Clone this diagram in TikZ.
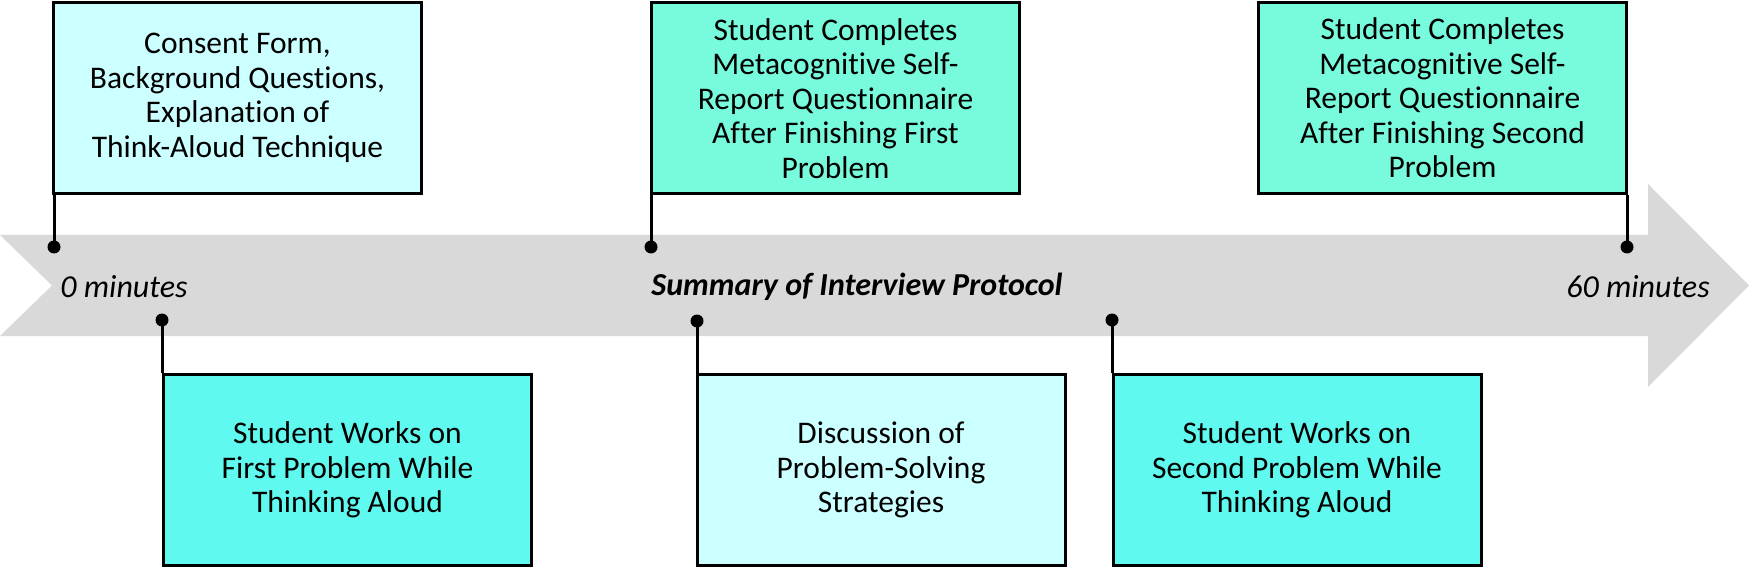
\documentclass[tikz,border=0pt]{standalone}
\usepackage{fontspec}
\setmainfont{Carlito}[Ligatures=NoCommon]
\definecolor{lightbox}{HTML}{CCFFFF}
\definecolor{aquabox}{HTML}{5FF9EF}
\definecolor{greenbox}{HTML}{78FBDC}
\definecolor{bandgray}{HTML}{D9D9D9}
\begin{document}
\begin{tikzpicture}[x=1pt,y=-1pt,
  box/.style={draw=black,line width=3pt,minimum width=368pt,minimum height=191pt,
    inner sep=0pt,align=center,font=\fontsize{31.5}{34.5}\selectfont},
  dot/.style={circle,fill=black,inner sep=0pt,minimum size=13pt},
  pole/.style={line width=3pt},
  bandtext/.style={font=\fontsize{32}{36}\selectfont\itshape}]
\useasboundingbox (0,0) rectangle (1750,569);
% timeline band
\fill[bandgray] (0,235) -- (1648,235) -- (1648,184) -- (1749,285.5) -- (1648,387)
  -- (1648,336) -- (0,336) -- (52,285.5) -- cycle;
\node[bandtext] (t0) at (124,287) {0 minutes};
\node[bandtext,font=\fontsize{32}{36}\selectfont\bfseries\itshape] (tsum) at (857,287) {Summary of Interview Protocol};
\node[bandtext] (t60) at (1638,287) {60 minutes};
% boxes
\node[box,fill=lightbox] (b1) at (237.5,98) {Consent Form,\\Background Questions,\\Explanation of\\Think-Aloud Technique};
\node[box,fill=aquabox] (b2) at (347.5,470) {Student Works on\\First Problem While\\Thinking Aloud};
\node[box,fill=greenbox] (b3) at (835.5,98.5) {Student Completes\\Metacognitive Self-\\Report Questionnaire\\After Finishing First\\Problem};
\node[box,fill=lightbox] (b4) at (881,470) {Discussion of\\Problem-Solving\\Strategies};
\node[box,fill=aquabox] (b5) at (1297,470) {Student Works on\\Second Problem While\\Thinking Aloud};
\node[box,fill=greenbox] (b6) at (1442.5,98) {Student Completes\\Metacognitive Self-\\Report Questionnaire\\After Finishing Second\\Problem};
% dots
\node[dot] (d1) at (54,247) {};
\node[dot] (d2) at (162,320) {};
\node[dot] (d3) at (651,247) {};
\node[dot] (d4) at (697,321) {};
\node[dot] (d5) at (1112,320) {};
\node[dot] (d6) at (1627,247) {};
% poles
\draw[pole] (d1.center) -- (d1.center |- b1.south);
\draw[pole] (d2.center) -- (d2.center |- b2.north);
\draw[pole] (d3.center) -- (d3.center |- b3.south);
\draw[pole] (d4.center) -- (d4.center |- b4.north);
\draw[pole] (d5.center) -- (d5.center |- b5.north);
\draw[pole] (d6.center) -- (d6.center |- b6.south);
\end{tikzpicture}
\end{document}
